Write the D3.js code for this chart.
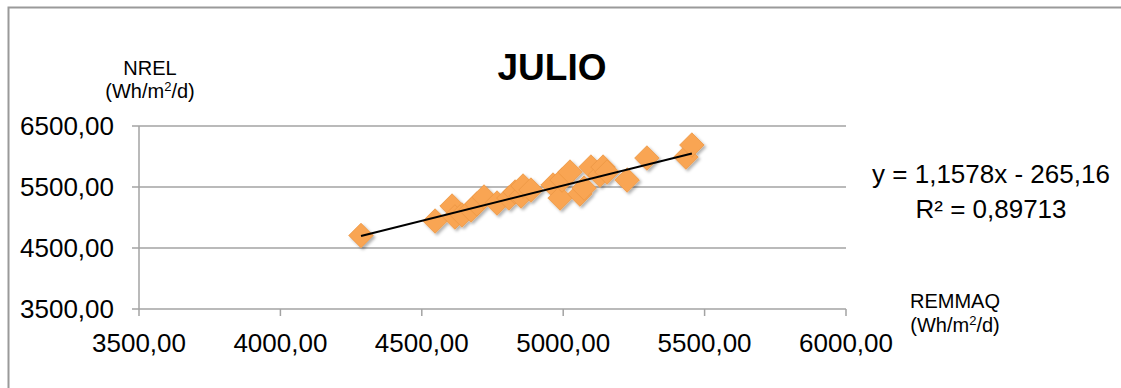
<!DOCTYPE html>
<html>
<head>
<meta charset="utf-8">
<script src="https://cdn.jsdelivr.net/npm/d3@7/dist/d3.min.js"></script>
<style>
  html, body { margin: 0; padding: 0; background: #fff; overflow: hidden; }
  svg { display: block; font-family: "Liberation Sans", Arial, Helvetica, sans-serif; }
</style>
</head>
<body>
<svg id="chart" width="1121" height="388"></svg>
<script>
// Daily irradiation for July: REMMAQ (x) vs NREL (y), Wh/m²/d
const remmaq = [4285, 4547, 4607, 4617, 4642, 4674, 4695, 4720, 4766, 4808, 4830, 4851, 4858, 4886,
                4964, 4989, 4996, 5024, 5059, 5074, 5098, 5130, 5141, 5155, 5226, 5296, 5434, 5455];
const nrel   = [4705, 4942, 5188, 5008, 5041, 5123, 5221, 5336, 5237, 5319, 5418, 5352, 5516, 5450,
                5532, 5319, 5614, 5745, 5385, 5483, 5827, 5696, 5827, 5745, 5614, 5975, 5991, 6188];

const xTicks = [3500, 4000, 4500, 5000, 5500, 6000];
const yTicks = [3500, 4500, 5500, 6500];

// Linear trend line y = slope·x + intercept
const slope = 1.1578;
const intercept = -265.16;
const r2 = 0.89713;

const fmt = v => v.toFixed(2).replace(".", ",");

const svg = d3.select("#chart");

// Outer chart frame (left and top edges are inside the view)
svg.append("path")
  .attr("d", "M8.5,388V7.5H1121")
  .attr("fill", "none").attr("stroke", "#9a9a9a").attr("stroke-width", 2);

const x = d3.scaleLinear().domain([3500, 6000]).range([139, 846]);
const y = d3.scaleLinear().domain([3500, 6500]).range([309, 126]);

const defs = svg.append("defs");
const f = defs.append("filter").attr("id", "shadow")
  .attr("x", "-50%").attr("y", "-50%").attr("width", "200%").attr("height", "200%");
f.append("feDropShadow").attr("dx", 2).attr("dy", 2).attr("stdDeviation", 1.5)
  .attr("flood-color", "#000").attr("flood-opacity", 0.3);

// Horizontal gridlines
svg.append("g").selectAll("line").data(yTicks).join("line")
  .attr("x1", x(3500) - 7).attr("x2", x(6000))
  .attr("y1", d => y(d)).attr("y2", d => y(d))
  .attr("stroke", "#a3a3a3").attr("stroke-width", 1.5);

// Y axis line
svg.append("line")
  .attr("x1", x(3500)).attr("x2", x(3500))
  .attr("y1", y(6500)).attr("y2", y(3500))
  .attr("stroke", "#a3a3a3").attr("stroke-width", 1.5);

// X axis ticks
svg.append("g").selectAll("line").data(xTicks).join("line")
  .attr("x1", d => x(d)).attr("x2", d => x(d))
  .attr("y1", y(3500)).attr("y2", y(3500) + 7)
  .attr("stroke", "#a3a3a3").attr("stroke-width", 1.5);

// Tick labels
svg.append("g").selectAll("text").data(yTicks).join("text")
  .attr("x", 114).attr("y", d => y(d) + 9.3)
  .attr("text-anchor", "end").attr("font-size", 26).attr("fill", "#000")
  .text(fmt);

svg.append("g").selectAll("text").data(xTicks).join("text")
  .attr("x", d => x(d)).attr("y", y(3500) + 43)
  .attr("text-anchor", "middle").attr("font-size", 26).attr("fill", "#000")
  .text(fmt);

// Points (diamonds)
const pts = remmaq.map((v, i) => [v, nrel[i]]);
const diamond = d3.symbol().type(d3.symbolSquare).size(300);
svg.append("g").attr("filter", "url(#shadow)")
  .selectAll("path").data(pts).join("path")
  .attr("d", diamond)
  .attr("transform", d => `translate(${x(d[0])},${y(d[1])}) rotate(45)`)
  .attr("fill", "#f9a552").attr("stroke", "#ec9746").attr("stroke-width", 0.8);

// Trend line across the data range
const xMin = d3.min(remmaq), xMax = d3.max(remmaq);
svg.append("line")
  .attr("x1", x(xMin)).attr("y1", y(slope * xMin + intercept))
  .attr("x2", x(xMax)).attr("y2", y(slope * xMax + intercept))
  .attr("stroke", "#000").attr("stroke-width", 2);

// Title
svg.append("text").attr("x", 552).attr("y", 80)
  .attr("text-anchor", "middle").attr("font-size", 37).attr("font-weight", "bold")
  .text("JULIO");

// Axis titles
function unitLabel(cx, y1, y2, name) {
  svg.append("text").attr("x", cx).attr("y", y1)
    .attr("text-anchor", "middle").attr("font-size", 20).text(name);
  const t = svg.append("text").attr("x", cx).attr("y", y2)
    .attr("text-anchor", "middle").attr("font-size", 20);
  t.append("tspan").text("(Wh/m");
  t.append("tspan").attr("font-size", 13).attr("dy", -7).text("2");
  t.append("tspan").attr("dy", 7).text("/d)");
}
unitLabel(150, 75, 98, "NREL");
unitLabel(955, 308, 332, "REMMAQ");

// Trend equation
svg.append("text").attr("x", 991).attr("y", 183)
  .attr("text-anchor", "middle").attr("font-size", 26)
  .text(`y = ${String(slope).replace(".", ",")}x - ${String(-intercept).replace(".", ",")}`);
svg.append("text").attr("x", 991).attr("y", 218)
  .attr("text-anchor", "middle").attr("font-size", 26)
  .text(`R² = ${String(r2).replace(".", ",")}`);
</script>
</body>
</html>
